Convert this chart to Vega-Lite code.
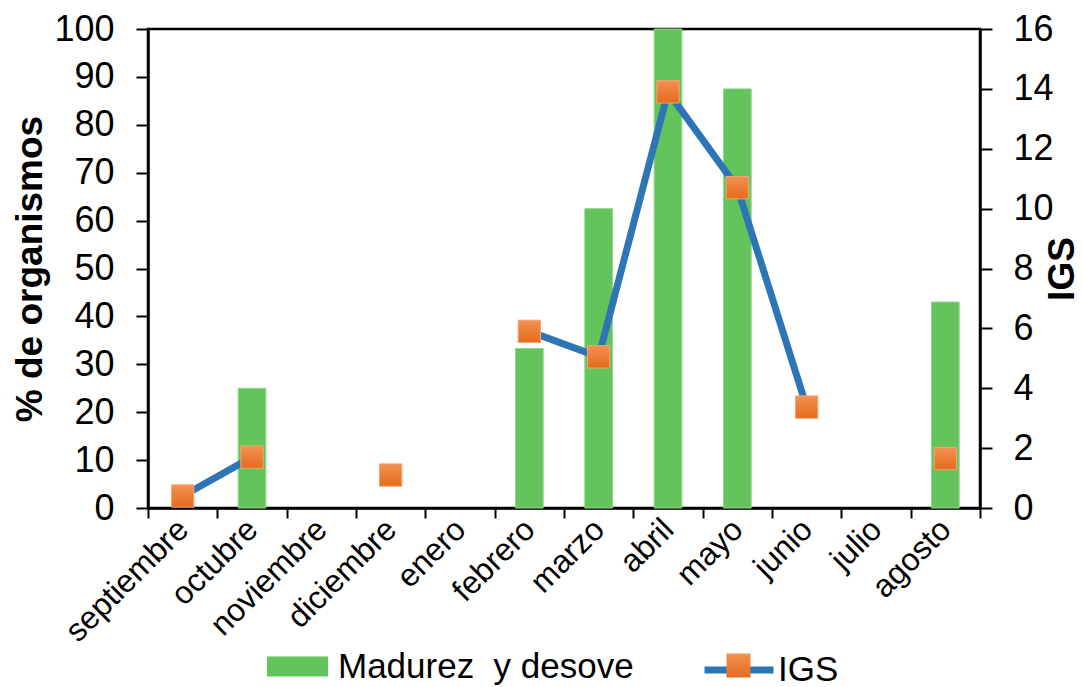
{
  "$schema": "https://vega.github.io/schema/vega-lite/v6.json",
  "autosize": {"type": "none"},
  "padding": {"left": 148, "top": 29, "right": 103, "bottom": 179},
  "width": 832,
  "height": 479,
  "background": "white",
  "config": {
    "view": {"stroke": "#000000", "strokeWidth": 2.5},
    "font": "Liberation Sans",
    "axis": {
      "labelFont": "Liberation Sans",
      "titleFont": "Liberation Sans",
      "labelColor": "#000000",
      "titleColor": "#000000",
      "domainColor": "#000000",
      "tickColor": "#000000",
      "domainWidth": 2.5,
      "tickWidth": 2,
      "grid": false
    },
    "legend": {
      "labelFont": "Liberation Sans",
      "labelColor": "#000000",
      "labelFontSize": 35,
      "labelLimit": 0,
      "padding": 0,
      "offset": 0,
      "title": null
    }
  },
  "data": {
    "values": [
      {"mes": "septiembre", "madurez": null, "igs": 0.4},
      {"mes": "octubre", "madurez": 25, "igs": 1.7},
      {"mes": "noviembre", "madurez": null, "igs": null},
      {"mes": "diciembre", "madurez": null, "igs": 1.1},
      {"mes": "enero", "madurez": null, "igs": null},
      {"mes": "febrero", "madurez": 33.3, "igs": 5.9},
      {"mes": "marzo", "madurez": 62.5, "igs": 5.05},
      {"mes": "abril", "madurez": 100, "igs": 13.9},
      {"mes": "mayo", "madurez": 87.5, "igs": 10.7},
      {"mes": "junio", "madurez": null, "igs": 3.37},
      {"mes": "julio", "madurez": null, "igs": null},
      {"mes": "agosto", "madurez": 43, "igs": 1.65}
    ]
  },
  "encoding": {
    "x": {
      "field": "mes",
      "type": "nominal",
      "sort": ["septiembre", "octubre", "noviembre", "diciembre", "enero", "febrero", "marzo", "abril", "mayo", "junio", "julio", "agosto"],
      "scale": {
        "domain": ["septiembre", "octubre", "noviembre", "diciembre", "enero", "febrero", "marzo", "abril", "mayo", "junio", "julio", "agosto"],
        "paddingInner": 0,
        "paddingOuter": 0
      },
      "axis": {
        "title": null,
        "tickBand": "extent",
        "tickSize": 10,
        "labelAngle": -45,
        "labelAlign": "right",
        "labelBaseline": "middle",
        "labelFontSize": 32,
        "labelPadding": 6,
        "labelLimit": 0
      }
    }
  },
  "layer": [
    {
      "mark": {"type": "bar", "width": {"band": 0.4}, "stroke": "#93D68D", "strokeWidth": 1},
      "encoding": {
        "y": {
          "field": "madurez",
          "type": "quantitative",
          "scale": {"domain": [0, 100], "nice": false},
          "axis": {
            "title": "% de organismos",
            "titleFontSize": 37,
            "titleFontWeight": "bold",
            "titlePadding": 4,
            "values": [0, 10, 20, 30, 40, 50, 60, 70, 80, 90, 100],
            "labelFontSize": 36,
            "tickSize": 12,
            "labelPadding": 22
          }
        },
        "color": {
          "datum": "Madurez\u00a0 y desove",
          "scale": {"range": ["#62C45B"]},
          "legend": {
            "orient": "none",
            "legendX": 119,
            "legendY": 607,
            "symbolType": "M-1,-0.33H1V0.33H-1Z",
            "symbolSize": 3721,
            "symbolStrokeWidth": 0,
            "labelOffset": 10
          }
        }
      }
    },
    {
      "layer": [
        {
          "mark": {"type": "line", "strokeWidth": 7, "invalid": "break-paths-show-domains"},
          "encoding": {
            "y": {
              "field": "igs",
              "type": "quantitative",
              "scale": {"domain": [0, 16], "nice": false},
              "axis": {
                "orient": "right",
                "title": "IGS",
                "titleAngle": 270,
                "titleBaseline": "top",
                "titleFontSize": 37,
                "titleFontWeight": "bold",
                "titlePadding": -9,
                "values": [0, 2, 4, 6, 8, 10, 12, 14, 16],
                "labelFontSize": 36,
                "tickSize": 12,
                "labelPadding": 21
              }
            },
            "stroke": {
              "datum": "IGS",
              "scale": {"range": ["#2E75B6"]},
              "legend": {
                "orient": "none",
                "legendX": 553,
                "legendY": 603,
                "symbolType": "stroke",
                "symbolSize": 4761,
                "symbolStrokeWidth": 7,
                "labelOffset": 1
              }
            }
          }
        },
        {
          "mark": {
            "type": "point",
            "filled": true,
            "size": 500,
            "opacity": 1,
            "fill": {
              "gradient": "linear",
              "x1": 0, "y1": 0, "x2": 0, "y2": 1,
              "stops": [
                {"offset": 0, "color": "#F29152"},
                {"offset": 1, "color": "#E56B1C"}
              ]
            },
            "stroke": "#F5A571",
            "strokeWidth": 1
          },
          "encoding": {
            "y": {"field": "igs", "type": "quantitative"},
            "shape": {
              "datum": "IGS ",
              "scale": {"range": ["square"]},
              "legend": {
                "orient": "none",
                "legendX": 578,
                "legendY": 624,
                "zindex": 2,
                "symbolSize": 576,
                "symbolFillColor": "#ED7D31",
                "symbolStrokeColor": "#F5A571",
                "symbolStrokeWidth": 1,
                "symbolOpacity": 1,
                "labelExpr": "''",
                "labelFontSize": 1
              }
            }
          }
        }
      ]
    }
  ],
  "resolve": {"scale": {"y": "independent"}}
}
